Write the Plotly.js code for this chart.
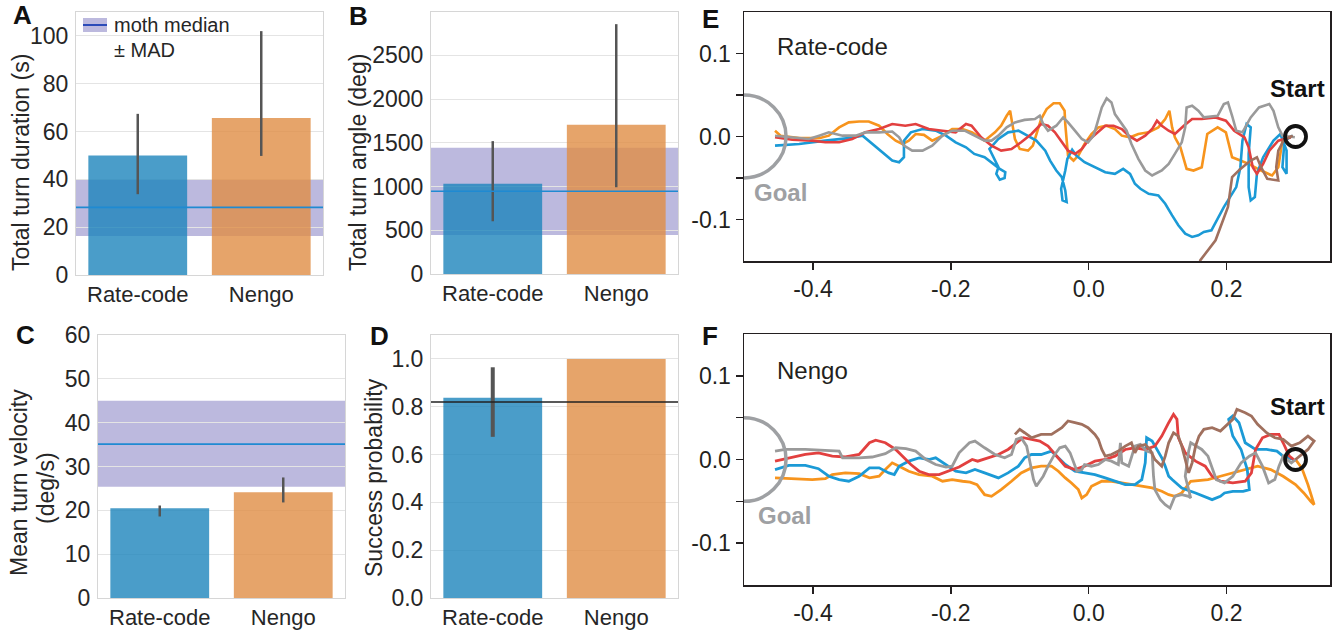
<!DOCTYPE html>
<html>
<head>
<meta charset="utf-8">
<script src="https://cdn.plot.ly/plotly-3.0.1.min.js"></script>
<style>html,body{margin:0;padding:0;background:#fff;}#chart{width:1339px;height:635px;}</style>
</head>
<body>
<div id="chart"></div>
<script>
// ---------------- DATA ----------------
const categories = ['Rate-code', 'Nengo'];

// Panel A: total turn duration (s)
const durationMean = [50.0, 65.7];
const durationLow  = [33.8, 49.8];
const durationHigh = [67.4, 102.0];
const durationMoth = {median: 28.3, low: 16.3, high: 40.0};

// Panel B: total turn angle (deg)
const angleMean = [1031, 1707];
const angleLow  = [603, 992];
const angleHigh = [1519, 2856];
const angleMoth = {median: 946, low: 447, high: 1443};

// Panel C: mean turn velocity (deg/s)
const velocityMean = [20.5, 24.1];
const velocityLow  = [18.6, 21.8];
const velocityHigh = [21.1, 27.5];
const velocityMoth = {median: 35.1, low: 25.4, high: 45.0};

// Panel D: success probability
const successMean = [0.838, 1.0];
const successLow  = [0.674, 1.0];
const successHigh = [0.965, 1.0];
const successMoth = 0.82;

// Trajectory tick labels
const trajXTickVals = [-0.4, -0.2, 0.0, 0.2];
const trajXTickText = ['-0.4', '-0.2', '0.0', '0.2'];
const trajYTickVals = [-0.1, 0.0, 0.1];
const trajYTickText = ['-0.1', '0.0', '0.1'];
const trajYMinorVals = [-0.05, 0.05];
const startPoint = [0.3, 0.0];
const goalCenter = [-0.5, 0.0];

// Panel E: Rate-code trajectories [x, y]
const eBlue = [[-0.455,-0.011],[-0.42,-0.009],[-0.382,-0.005],[-0.348,-0.002],[-0.328,0.001],[-0.314,-0.009],[-0.299,-0.019],[-0.285,-0.029],[-0.275,-0.031],[-0.268,-0.025],[-0.268,-0.005],[-0.258,0.005],[-0.241,0.009],[-0.222,0.007],[-0.207,0.001],[-0.193,-0.007],[-0.178,-0.013],[-0.166,-0.021],[-0.151,-0.025],[-0.139,-0.033],[-0.129,-0.039],[-0.121,-0.043],[-0.122,-0.05],[-0.129,-0.052],[-0.134,-0.045],[-0.131,-0.037],[-0.141,-0.021],[-0.144,-0.015],[-0.131,-0.003],[-0.117,0.005],[-0.102,0.007],[-0.088,0.001],[-0.076,-0.005],[-0.063,-0.017],[-0.056,-0.029],[-0.047,-0.041],[-0.039,-0.049],[-0.034,-0.065],[-0.032,-0.079],[-0.038,-0.077],[-0.04,-0.063],[-0.034,-0.041],[-0.031,-0.027],[-0.024,-0.016],[-0.018,-0.023],[-0.006,-0.031],[0.009,-0.037],[0.024,-0.043],[0.038,-0.045],[0.05,-0.039],[0.06,-0.045],[0.067,-0.057],[0.075,-0.063],[0.087,-0.069],[0.101,-0.071],[0.111,-0.081],[0.121,-0.095],[0.13,-0.107],[0.14,-0.117],[0.15,-0.121],[0.159,-0.119],[0.167,-0.115],[0.178,-0.113],[0.196,-0.085],[0.214,-0.061],[0.22,-0.037],[0.223,-0.005],[0.229,0.015],[0.235,0.011],[0.232,-0.021],[0.232,-0.061],[0.235,-0.077],[0.241,-0.073],[0.244,-0.045],[0.253,-0.025],[0.268,-0.005],[0.278,0.003],[0.287,-0.017],[0.287,-0.045],[0.281,-0.037],[0.284,-0.005],[0.296,0.001]];
const eOrange = [[-0.455,0.007],[-0.447,0.001],[-0.42,-0.002],[-0.391,-0.002],[-0.377,0.001],[-0.362,0.011],[-0.348,0.017],[-0.333,0.018],[-0.319,0.018],[-0.304,0.013],[-0.292,0.003],[-0.28,-0.005],[-0.27,-0.009],[-0.261,-0.005],[-0.251,0.003],[-0.239,0.002],[-0.227,-0.005],[-0.212,0.001],[-0.198,0.009],[-0.183,0.009],[-0.169,0.005],[-0.151,-0.005],[-0.136,0.005],[-0.127,0.013],[-0.119,0.025],[-0.114,0.031],[-0.112,0.021],[-0.107,-0.003],[-0.1,-0.015],[-0.088,-0.017],[-0.081,-0.011],[-0.076,0.003],[-0.069,0.021],[-0.061,0.033],[-0.051,0.04],[-0.042,0.04],[-0.035,0.031],[-0.034,0.015],[-0.032,-0.005],[-0.03,-0.023],[-0.022,-0.029],[-0.015,-0.023],[-0.006,-0.009],[0.004,0.003],[0.014,0.011],[0.026,0.013],[0.038,0.009],[0.048,0.001],[0.06,-0.001],[0.072,0.003],[0.087,0.005],[0.101,0.011],[0.111,0.021],[0.117,0.031],[0.121,0.011],[0.125,-0.001],[0.133,-0.013],[0.138,-0.029],[0.142,-0.039],[0.152,-0.041],[0.164,-0.037],[0.172,0.003],[0.187,0.011],[0.199,0.005],[0.205,-0.013],[0.208,-0.025],[0.22,-0.029],[0.232,-0.033],[0.25,-0.041],[0.266,-0.047],[0.275,-0.037],[0.278,-0.021],[0.281,-0.005],[0.293,-0.001]];
const eRed = [[-0.455,-0.001],[-0.43,-0.004],[-0.401,-0.005],[-0.382,-0.007],[-0.362,-0.007],[-0.343,-0.003],[-0.324,0.005],[-0.304,0.009],[-0.285,0.015],[-0.266,0.013],[-0.251,0.015],[-0.232,0.009],[-0.212,0.007],[-0.193,0.005],[-0.178,0.015],[-0.17,0.013],[-0.156,-0.001],[-0.141,-0.011],[-0.127,-0.017],[-0.112,-0.015],[-0.098,-0.007],[-0.083,0.003],[-0.069,0.015],[-0.059,0.013],[-0.049,0.005],[-0.039,-0.007],[-0.03,-0.017],[-0.02,-0.021],[-0.01,-0.015],[-0.001,-0.005],[0.012,0.005],[0.024,0.013],[0.036,0.013],[0.048,0.009],[0.058,0.001],[0.07,-0.005],[0.082,0.001],[0.092,0.009],[0.099,0.019],[0.106,0.013],[0.116,0.007],[0.125,0.003],[0.138,0.013],[0.15,0.021],[0.164,0.021],[0.184,0.023],[0.199,0.019],[0.211,0.007],[0.226,-0.001],[0.232,-0.013],[0.238,-0.037],[0.244,-0.045],[0.253,-0.033],[0.262,-0.017],[0.275,-0.005],[0.293,-0.001]];
const eGray = [[-0.455,0.001],[-0.43,-0.001],[-0.406,-0.003],[-0.391,0.001],[-0.377,0.005],[-0.357,0.001],[-0.338,0.001],[-0.324,0.005],[-0.304,0.005],[-0.285,0.006],[-0.275,-0.001],[-0.268,-0.011],[-0.256,-0.017],[-0.241,-0.017],[-0.227,-0.011],[-0.212,0.001],[-0.198,0.007],[-0.18,0.007],[-0.166,0.001],[-0.151,-0.005],[-0.141,-0.005],[-0.131,0.001],[-0.119,0.011],[-0.107,0.017],[-0.093,0.02],[-0.078,0.021],[-0.071,0.025],[-0.066,0.015],[-0.059,0.007],[-0.047,0.013],[-0.037,0.023],[-0.03,0.017],[-0.02,0.007],[-0.01,-0.003],[-0.001,-0.007],[0.007,0.001],[0.012,0.015],[0.019,0.035],[0.026,0.046],[0.033,0.041],[0.038,0.027],[0.046,0.017],[0.055,0.007],[0.062,-0.009],[0.072,-0.027],[0.082,-0.041],[0.092,-0.047],[0.106,-0.041],[0.116,-0.033],[0.125,-0.021],[0.135,-0.007],[0.14,0.011],[0.142,0.035],[0.15,0.037],[0.159,0.031],[0.167,0.023],[0.187,0.025],[0.196,0.039],[0.202,0.041],[0.208,0.025],[0.214,0.007],[0.223,0.005],[0.235,0.023],[0.247,0.035],[0.262,0.039],[0.268,0.031],[0.275,0.011],[0.281,0.001],[0.299,-0.001]];
const eBrown = [[0.156,-0.165],[0.162,-0.149],[0.184,-0.125],[0.202,-0.085],[0.208,-0.049],[0.22,-0.039],[0.235,-0.029],[0.244,-0.025],[0.25,-0.037],[0.259,-0.051],[0.275,-0.053],[0.272,-0.037],[0.275,-0.017],[0.284,-0.003],[0.296,0.001]];

// Panel F: Nengo trajectories [x, y]
const fGray = [[-0.455,0.01],[-0.44,0.012],[-0.411,0.012],[-0.382,0.011],[-0.362,0.01],[-0.357,0.002],[-0.333,0.002],[-0.314,0.003],[-0.295,0.007],[-0.28,0.014],[-0.265,0.013],[-0.251,0.01],[-0.236,0.0],[-0.222,-0.006],[-0.207,-0.009],[-0.198,-0.008],[-0.188,0.008],[-0.173,0.02],[-0.165,0.022],[-0.151,0.014],[-0.136,0.006],[-0.122,0.002],[-0.112,0.006],[-0.105,0.024],[-0.098,0.026],[-0.09,0.016],[-0.085,-0.004],[-0.08,-0.024],[-0.076,-0.032],[-0.066,-0.02],[-0.059,-0.008],[-0.051,0.004],[-0.042,0.014],[-0.034,0.016],[-0.027,0.008],[-0.022,-0.004],[-0.017,-0.014],[-0.01,-0.012],[-0.006,-0.006],[0.004,-0.008],[0.014,-0.006],[0.024,0.0],[0.033,-0.002],[0.043,-0.006],[0.046,0.02],[0.048,-0.004],[0.058,-0.008],[0.067,0.016],[0.075,0.018],[0.084,0.01],[0.092,0.008],[0.094,-0.02],[0.096,-0.036],[0.104,-0.048],[0.111,-0.054],[0.118,-0.058],[0.125,-0.044],[0.135,-0.042],[0.145,-0.044],[0.148,-0.046],[0.14,-0.02],[0.145,0.01],[0.148,0.02],[0.164,0.012],[0.173,0.004],[0.185,-0.024],[0.197,-0.028],[0.209,-0.02],[0.221,-0.004],[0.233,0.004],[0.242,0.008],[0.252,-0.008],[0.261,-0.028],[0.27,-0.024],[0.276,-0.008],[0.282,0.004],[0.294,-0.004],[0.3,0.0]];
const fRed = [[-0.455,-0.002],[-0.435,0.002],[-0.411,0.006],[-0.392,0.008],[-0.372,0.004],[-0.353,0.003],[-0.333,0.006],[-0.318,0.02],[-0.309,0.023],[-0.295,0.02],[-0.28,0.012],[-0.27,0.004],[-0.258,-0.006],[-0.246,-0.014],[-0.232,-0.018],[-0.217,-0.018],[-0.203,-0.014],[-0.188,-0.009],[-0.169,0.0],[-0.161,-0.002],[-0.146,0.002],[-0.131,0.006],[-0.117,0.012],[-0.105,0.02],[-0.095,0.026],[-0.083,0.024],[-0.071,0.022],[-0.059,0.016],[-0.047,0.004],[-0.034,-0.008],[-0.02,-0.012],[-0.006,-0.008],[0.009,-0.002],[0.024,0.0],[0.038,0.004],[0.053,0.012],[0.067,0.014],[0.082,0.012],[0.096,0.016],[0.106,0.028],[0.116,0.044],[0.123,0.054],[0.128,0.048],[0.13,0.026],[0.14,0.008],[0.155,-0.002],[0.169,-0.008],[0.179,-0.02],[0.191,-0.026],[0.209,-0.028],[0.227,-0.026],[0.236,-0.016],[0.242,0.012],[0.252,0.026],[0.264,0.03],[0.276,0.03],[0.282,0.02],[0.291,0.004],[0.3,-0.002]];
const fBlue = [[-0.455,-0.012],[-0.435,-0.007],[-0.411,-0.007],[-0.392,-0.011],[-0.377,-0.02],[-0.362,-0.024],[-0.348,-0.026],[-0.333,-0.02],[-0.318,-0.01],[-0.304,-0.01],[-0.29,-0.016],[-0.282,-0.018],[-0.275,-0.008],[-0.261,-0.002],[-0.246,0.002],[-0.232,0.0],[-0.222,0.002],[-0.207,-0.006],[-0.193,-0.014],[-0.178,-0.016],[-0.165,-0.012],[-0.151,-0.016],[-0.131,-0.022],[-0.117,-0.016],[-0.102,-0.008],[-0.093,0.002],[-0.083,0.006],[-0.069,0.006],[-0.054,0.01],[-0.044,0.002],[-0.034,-0.006],[-0.02,-0.014],[-0.006,-0.016],[0.009,-0.018],[0.024,-0.022],[0.038,-0.026],[0.053,-0.03],[0.067,-0.03],[0.077,-0.024],[0.082,-0.004],[0.084,0.026],[0.092,0.022],[0.099,0.012],[0.106,0.002],[0.111,-0.008],[0.116,-0.02],[0.121,-0.024],[0.135,-0.034],[0.155,-0.04],[0.167,-0.044],[0.179,-0.048],[0.191,-0.044],[0.197,-0.04],[0.209,-0.038],[0.224,-0.038],[0.233,-0.036],[0.23,-0.012],[0.221,0.012],[0.209,0.028],[0.203,0.048],[0.209,0.052],[0.218,0.044],[0.227,0.02],[0.242,0.012],[0.258,0.012],[0.273,0.01],[0.282,0.004],[0.297,0.0]];
const fOrange = [[-0.455,-0.022],[-0.43,-0.023],[-0.401,-0.024],[-0.382,-0.023],[-0.372,-0.018],[-0.353,-0.016],[-0.333,-0.017],[-0.318,-0.022],[-0.304,-0.02],[-0.295,-0.012],[-0.285,-0.004],[-0.275,-0.008],[-0.261,-0.014],[-0.246,-0.018],[-0.227,-0.02],[-0.212,-0.026],[-0.198,-0.024],[-0.183,-0.026],[-0.172,-0.027],[-0.162,-0.03],[-0.151,-0.042],[-0.141,-0.044],[-0.127,-0.036],[-0.112,-0.026],[-0.098,-0.016],[-0.083,-0.01],[-0.069,-0.008],[-0.054,-0.008],[-0.044,-0.014],[-0.034,-0.022],[-0.025,-0.028],[-0.015,-0.036],[-0.01,-0.046],[-0.003,-0.042],[0.004,-0.032],[0.019,-0.026],[0.033,-0.026],[0.048,-0.028],[0.062,-0.03],[0.077,-0.032],[0.092,-0.034],[0.106,-0.038],[0.116,-0.042],[0.125,-0.044],[0.135,-0.04],[0.148,-0.026],[0.173,-0.024],[0.191,-0.02],[0.209,-0.016],[0.227,-0.012],[0.245,-0.008],[0.264,-0.012],[0.282,-0.02],[0.3,-0.03],[0.312,-0.04],[0.322,-0.05],[0.327,-0.054],[0.318,-0.03],[0.309,-0.01],[0.3,0.0]];
const fBrown = [[-0.107,0.03],[-0.1,0.036],[-0.093,0.032],[-0.083,0.026],[-0.069,0.03],[-0.054,0.03],[-0.039,0.038],[-0.03,0.046],[-0.02,0.044],[-0.01,0.042],[-0.001,0.038],[0.009,0.03],[0.014,0.024],[0.019,0.012],[0.024,0.004],[0.033,0.006],[0.043,0.01],[0.053,0.016],[0.062,0.02],[0.067,0.008],[0.072,0.016],[0.082,0.018],[0.089,0.012],[0.096,0.0],[0.106,-0.008],[0.111,0.004],[0.116,0.02],[0.123,0.032],[0.13,0.028],[0.135,0.016],[0.14,0.0],[0.145,-0.016],[0.15,-0.004],[0.155,0.016],[0.16,0.028],[0.167,0.036],[0.179,0.038],[0.191,0.034],[0.209,0.048],[0.215,0.06],[0.227,0.056],[0.236,0.052],[0.245,0.042],[0.258,0.032],[0.27,0.026],[0.282,0.024],[0.294,0.016],[0.306,0.02],[0.318,0.028],[0.327,0.022],[0.318,0.012],[0.306,0.004],[0.3,0.0]];

// ---------------- STYLE ----------------
const W = 1339, H = 635;
const FONT = '"Liberation Sans", Arial, Helvetica, sans-serif';
const TXT = '#262626';
const BAR_COLORS = ['rgba(29,132,188,0.8)', 'rgba(224,141,69,0.8)'];
const BAND = '#bcb9de';
const MEDIAN_LINE = '#1f8ad2';
const ERR = '#555555';
const TRAJ = {blue: '#1b9ad6', orange: '#f7941d', red: '#e2403f', gray: '#9a9a9a', brown: '#a0705e'};
const px = v => v / W;
const py = v => 1 - v / H;

const traces = [];
const shapes = [];
const annotations = [];

function barPanel(n, mean, lo, hi, errThick) {
  const sx = n === 1 ? '' : String(n);
  traces.push({
    type: 'bar', x: categories, y: mean, width: 0.8,
    xaxis: 'x' + sx, yaxis: 'y' + sx,
    marker: {color: BAR_COLORS, line: {width: 0}},
    error_y: {type: 'data', symmetric: false,
      array: hi.map((h, i) => h - mean[i]),
      arrayminus: lo.map((l, i) => mean[i] - l),
      color: ERR, thickness: errThick, width: 0},
    hoverinfo: 'skip'
  });
}
function band(n, moth) {
  const sx = n === 1 ? '' : String(n);
  shapes.push({type: 'rect', xref: 'x' + sx + ' domain', yref: 'y' + sx, x0: 0, x1: 1,
    y0: moth.low, y1: moth.high, fillcolor: BAND, line: {width: 0}, layer: 'below'});
  shapes.push({type: 'line', xref: 'x' + sx + ' domain', yref: 'y' + sx, x0: 0, x1: 1,
    y0: moth.median, y1: moth.median, line: {color: MEDIAN_LINE, width: 1.6}, layer: 'above'});
}
barPanel(1, durationMean, durationLow, durationHigh, 2.5);
barPanel(2, angleMean, angleLow, angleHigh, 2.5);
barPanel(3, velocityMean, velocityLow, velocityHigh, 2.5);
barPanel(4, successMean, successLow, successHigh, 4);
band(1, durationMoth); band(2, angleMoth); band(3, velocityMoth);
shapes.push({type: 'line', xref: 'x4 domain', yref: 'y4', x0: 0, x1: 1, y0: successMoth, y1: successMoth,
  line: {color: '#222', width: 1.5}, layer: 'above'});

function traj(n, pts, color, w) {
  traces.push({type: 'scatter', mode: 'lines', xaxis: 'x' + n, yaxis: 'y' + n,
    x: pts.map(p => p[0]), y: pts.map(p => p[1]),
    line: {color: color, width: w, shape: 'linear'}, hoverinfo: 'skip'});
}
traj(5, eOrange, TRAJ.orange, 2.6);
traj(5, eBlue, TRAJ.blue, 2.6);
traj(5, eRed, TRAJ.red, 2.6);
traj(5, eGray, TRAJ.gray, 2.6);
traj(5, eBrown, TRAJ.brown, 2.6);
traj(6, fOrange, TRAJ.orange, 2.8);
traj(6, fBlue, TRAJ.blue, 2.8);
traj(6, fRed, TRAJ.red, 2.8);
traj(6, fGray, TRAJ.gray, 2.8);
traj(6, fBrown, TRAJ.brown, 2.8);
[5, 6].forEach(n => {
  traces.push({type: 'scatter', mode: 'markers', xaxis: 'x' + n, yaxis: 'y' + n,
    x: [startPoint[0]], y: [startPoint[1]],
    marker: {symbol: 'circle-open', size: 21, color: '#111', line: {width: 3.8, color: '#111'}},
    hoverinfo: 'skip'});
  shapes.push({type: 'circle', xref: 'x' + n, yref: 'y' + n,
    x0: goalCenter[0] - 0.061, x1: goalCenter[0] + 0.061, y0: goalCenter[1] - 0.05, y1: goalCenter[1] + 0.05,
    line: {color: '#9ea0a3', width: 3.5}, fillcolor: 'rgba(0,0,0,0)', layer: 'above'});
});

// ---------------- AXES ----------------
function barX(x0, x1, y) {
  return {domain: [px(x0), px(x1)], anchor: y, type: 'category', range: [-0.5, 1.5],
    showgrid: false, showline: true, mirror: true, linecolor: '#d6d6d6', linewidth: 1,
    ticks: '', tickfont: {family: FONT, size: 22, color: TXT}, fixedrange: true};
}
function barY(y0, y1, x, range, dtick, fmt) {
  return {domain: [py(y1), py(y0)], anchor: x, range: range, dtick: dtick, tick0: 0,
    tickformat: fmt, showgrid: true, gridcolor: '#e4e4e4', gridwidth: 1,
    showline: true, mirror: true, linecolor: '#d6d6d6', linewidth: 1, zeroline: false,
    ticks: '', ticklabelstandoff: 2, tickfont: {family: FONT, size: 23, color: TXT}, fixedrange: true};
}
function trajX(y) {
  return {domain: [px(744), px(1330)], anchor: y, range: [-0.5, 0.35],
    tickmode: 'array', tickvals: trajXTickVals, ticktext: trajXTickText,
    ticks: 'outside', ticklen: 7, tickwidth: 1.5, tickcolor: '#231f20',
    showline: true, mirror: true, linecolor: '#231f20', linewidth: 1.5,
    showgrid: false, zeroline: false, tickfont: {family: FONT, size: 23, color: '#231f20'}, fixedrange: true};
}
function trajY(y0, y1, x) {
  return {domain: [py(y1), py(y0)], anchor: x, range: [-0.15, 0.15],
    tickmode: 'array', tickvals: trajYTickVals, ticktext: trajYTickText,
    ticks: 'outside', ticklen: 7, tickwidth: 1.5, tickcolor: '#231f20',
    minor: {tickmode: 'array', tickvals: trajYMinorVals, ticks: 'outside', ticklen: 7, tickwidth: 1.5, tickcolor: '#231f20', showgrid: false},
    showline: true, mirror: true, linecolor: '#231f20', linewidth: 1.5,
    showgrid: false, zeroline: false, tickfont: {family: FONT, size: 23, color: '#231f20'}, fixedrange: true};
}

// ---------------- ANNOTATIONS ----------------
function ann(text, x, y, opts) {
  annotations.push(Object.assign({text: text, xref: 'paper', yref: 'paper', x: px(x), y: py(y),
    showarrow: false, xanchor: 'center', yanchor: 'middle',
    font: {family: FONT, size: 23, color: TXT}}, opts || {}));
}
// panel letters
[['A', 22, 15], ['B', 358, 16], ['C', 25, 335], ['D', 379, 336], ['E', 710, 19], ['F', 710, 336]].forEach(l => {
  ann('<b>' + l[0] + '</b>', l[1], l[2], {font: {family: FONT, size: 26, color: '#111'}});
});
// y-axis titles
ann('Total turn duration (s)', 21, 163, {textangle: -90});
ann('Total turn angle (deg)', 358, 163, {textangle: -90});
ann('Mean turn velocity', 19, 483, {textangle: -90});
ann('(deg/s)', 46, 488, {textangle: -90});
ann('Success probability', 374, 478, {textangle: -90});
// legend panel A
shapes.push({type: 'rect', xref: 'paper', yref: 'paper', x0: px(83), x1: px(107), y0: py(32), y1: py(18),
  fillcolor: BAND, line: {width: 0}, layer: 'above'});
shapes.push({type: 'line', xref: 'paper', yref: 'paper', x0: px(83), x1: px(107), y0: py(25), y1: py(25),
  line: {color: '#2b4bb8', width: 2}, layer: 'above'});
ann('moth median', 112, 25, {xanchor: 'left', font: {family: FONT, size: 20, color: TXT}});
ann('± MAD', 112, 50, {xanchor: 'left', font: {family: FONT, size: 20, color: TXT}});
// trajectory texts
ann('Rate-code', 775, 46, {xanchor: 'left', font: {family: FONT, size: 24, color: '#231f20'}});
ann('Nengo', 775, 370, {xanchor: 'left', font: {family: FONT, size: 24, color: '#231f20'}});
ann('<b>Start</b>', 1297, 88, {font: {family: FONT, size: 24, color: '#111'}});
ann('<b>Start</b>', 1297, 407, {font: {family: FONT, size: 24, color: '#111'}});
ann('<b>Goal</b>', 780, 192, {font: {family: FONT, size: 24, color: '#9ea0a3'}});
ann('<b>Goal</b>', 784, 515, {font: {family: FONT, size: 24, color: '#9ea0a3'}});

const layout = {
  width: W, height: H, margin: {l: 0, r: 0, t: 0, b: 0, pad: 0},
  paper_bgcolor: '#fff', plot_bgcolor: '#fff', showlegend: false,
  font: {family: FONT, color: TXT},
  xaxis: barX(76, 323, 'y'),   yaxis: barY(12, 275, 'x', [0, 110], 20),
  xaxis2: barX(431, 678, 'y2'), yaxis2: barY(12, 274, 'x2', [0, 2995], 500),
  xaxis3: barX(98, 345, 'y3'), yaxis3: barY(335, 598, 'x3', [0, 60], 10),
  xaxis4: barX(431, 678, 'y4'), yaxis4: barY(335, 598, 'x4', [0, 1.1], 0.2, '.1f'),
  xaxis5: trajX('y5'), yaxis5: trajY(12, 261, 'x5'),
  xaxis6: trajX('y6'), yaxis6: trajY(334, 585, 'x6'),
  shapes: shapes, annotations: annotations, bargap: 0.2
};

Plotly.newPlot('chart', traces, layout, {staticPlot: true, displayModeBar: false});
</script>
</body>
</html>
